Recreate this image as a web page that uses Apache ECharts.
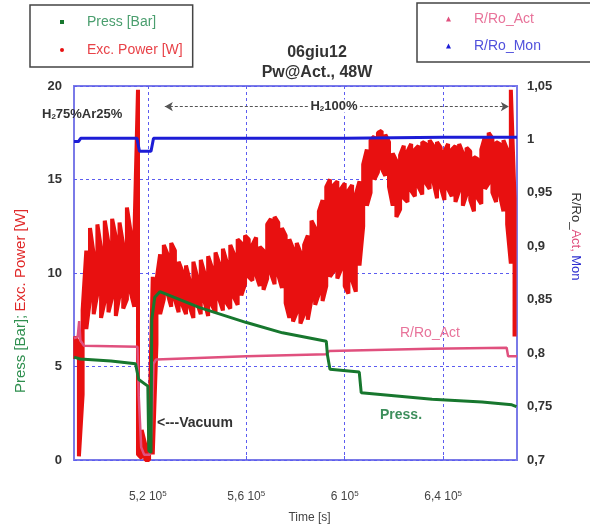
<!DOCTYPE html>
<html>
<head>
<meta charset="utf-8">
<script src="https://cdn.jsdelivr.net/npm/echarts@6/dist/echarts.min.js"></script>
<style>
html,body{margin:0;padding:0;background:#fff;}
#chart{width:590px;height:529px;}
</style>
</head>
<body>
<div id="chart"></div>
<script>
// tempi in secondi
var pressTime = [490000, 492500, 505000, 515000, 516300, 520000, 520400, 521300, 521600, 522800, 524900, 541100,
    560100, 574700, 592500, 593000, 594000, 605900, 606700, 607500, 635500, 655800, 667900, 669800];
var pressVal = [5.5, 5.4, 5.3, 5.15, 4.3, 3.95, 0.5, 0.4, 7.5, 8.7, 9.0, 8.15,
    7.35, 6.8, 6.35, 5.6, 4.85, 4.7, 3.6, 3.5, 3.25, 3.1, 2.95, 2.85];

var actTime = [490000, 491500, 492100, 492600, 494000, 515800, 516300, 517300, 518500, 520800, 521600, 522300,
    523300, 560000, 592500, 593700, 635000, 665800, 666400, 670000];
var actVal = [0.814, 0.815, 0.83, 0.812, 0.807, 0.806, 0.76, 0.712, 0.705, 0.705, 0.73, 0.79,
    0.794, 0.797, 0.799, 0.802, 0.804, 0.805, 0.797, 0.797];

var monTime = [490000, 491800, 492700, 515600, 516600, 521300, 522300, 600000, 640000, 670000];
var monVal = [0.998, 0.998, 1.001, 1.001, 0.989, 0.989, 1.001, 1.001, 1.002, 1.002];

var powerTime = [490500, 492000, 493500, 495000, 496500, 498000, 499500, 501000, 502500, 504000,
    505500, 507000, 508500, 510000, 511500, 513000, 514500, 516000, 517500, 519000,
    520500, 522000, 523500, 525000, 526500, 528000, 529500, 531000, 532500, 534000,
    535500, 537000, 538500, 540000, 541500, 543000, 544500, 546000, 547500, 549000,
    550500, 552000, 553500, 555000, 556500, 558000, 559500, 561000, 562500, 564000,
    565500, 567000, 568500, 570000, 571500, 573000, 574500, 576000, 577500, 579000,
    580500, 582000, 583500, 585000, 586500, 588000, 589500, 591000, 592500, 594000,
    595500, 597000, 598500, 600000, 601500, 603000, 604500, 606000, 607500, 609000,
    610500, 612000, 613500, 615000, 616500, 618000, 619500, 621000, 622500, 624000,
    625500, 627000, 628500, 630000, 631500, 633000, 634500, 636000, 637500, 639000,
    640500, 642000, 643500, 645000, 646500, 648000, 649500, 651000, 652500, 654000,
    655500, 657000, 658500, 660000, 661500, 663000, 664500, 666000, 667500, 669000];
var powerLow = [5.4, 0.2, 3.5, 7.0, 8.6, 7.8, 8.9, 7.6, 8.5, 7.9,
    8.7, 7.7, 8.8, 8.1, 8.6, 9.0, 8.2, 0.3, 0.1, 0.0,
    0.0, 0.3, 6.2, 7.8, 8.6, 8.9, 8.2, 8.6, 7.9, 8.3,
    7.8, 8.2, 7.6, 8.4, 7.8, 8.5, 7.7, 8.3, 7.9, 8.6,
    8.0, 8.4, 8.1, 8.7, 8.3, 8.8, 9.4, 9.8, 9.6, 9.9,
    9.3, 9.1, 9.7, 10.0, 9.4, 9.9, 9.2, 8.4, 7.6, 7.4,
    7.9, 7.3, 7.8, 7.5, 8.6, 8.3, 8.9, 8.5, 9.3, 9.8,
    10.1, 9.7, 10.2, 9.3, 8.9, 9.6, 9.0, 10.4, 12.5, 13.6,
    14.3, 15.0, 15.4, 15.6, 15.2, 14.6, 13.6, 13.0, 13.4, 14.0,
    13.8, 14.4, 14.1, 14.6, 14.2, 14.8, 14.5, 14.9, 14.0, 14.6,
    13.9, 14.5, 14.1, 13.8, 14.4, 13.6, 14.2, 13.9, 13.3, 14.0,
    13.7, 14.5, 14.8, 14.3, 13.8, 14.2, 13.3, 12.6, 10.5, 6.6];
var powerHigh = [6.6, 6.2, 8.0, 11.2, 12.4, 11.0, 12.6, 11.3, 12.8, 11.6,
    12.9, 11.9, 12.7, 11.5, 13.5, 12.2, 11.8, 19.8, 1.6, 0.8,
    1.0, 9.8, 9.6, 11.0, 11.5, 11.0, 11.6, 11.2, 10.6, 10.1,
    10.4, 9.6, 10.6, 9.8, 10.7, 10.0, 10.9, 10.3, 11.1, 10.5,
    11.3, 10.6, 11.5, 11.0, 11.8, 11.6, 12.0, 11.8, 11.5, 11.9,
    11.4, 11.2, 12.6, 12.9, 13.0, 12.7, 12.4, 12.0, 11.8, 11.3,
    11.6, 11.1, 11.5, 12.0, 12.8, 12.4, 13.3, 13.9, 14.6, 15.0,
    14.7, 14.9, 14.5, 14.8, 14.4, 14.7, 14.2, 14.9, 15.8, 16.6,
    17.1, 17.3, 17.5, 17.6, 17.4, 17.0, 16.4, 16.0, 16.3, 16.8,
    16.5, 16.9, 16.6, 16.8, 17.0, 16.9, 17.1, 16.8, 17.0, 16.7,
    16.5, 16.9, 16.6, 16.8, 16.9, 16.4, 16.7, 16.5, 16.2, 16.1,
    16.6, 17.3, 17.5, 17.2, 17.0, 16.9, 17.1, 16.6, 19.8, 14.0];

var timeTicks = [520000, 560000, 600000, 640000];
// fase H2 100% (freccia in alto)
var h2Span = [526900, 666700];
var h2Level = 18.9;

var FONT = '"Liberation Sans", Arial, sans-serif';

function zip(xs, ys) {
    return xs.map(function (x, i) { return [x, ys[i]]; });
}
// la nuvola rossa come tratti verticali min-max
var powerData = [];
powerTime.forEach(function (t, i) {
    if (i % 2 === 0) {
        powerData.push([t, powerLow[i]], [t, powerHigh[i]]);
    } else {
        powerData.push([t, powerHigh[i]], [t, powerLow[i]]);
    }
});

function timeLabel(v) {
    return String(+(v / 1e5).toFixed(1)).replace('.', ',') + ' 10{sup|5}';
}
function ratioLabel(v) {
    return String(+v.toFixed(2)).replace('.', ',');
}

var gridLine = {show: true, lineStyle: {color: '#5c5cf0', width: 1, type: [3, 3]}};

var chart = echarts.init(document.getElementById('chart'));
chart.setOption({
    animation: false,
    textStyle: {fontFamily: FONT},
    title: {
        text: '06giu12\nPw@Act., 48W',
        left: 312, top: 38, textAlign: 'center',
        textStyle: {fontSize: 16, fontWeight: 'bold', color: '#333', lineHeight: 20, fontFamily: FONT}
    },
    legend: [{
        data: [
            {name: 'Press [Bar]', icon: 'rect', textStyle: {color: '#4a9e6e'}},
            {name: 'Exc. Power [W]', icon: 'circle', textStyle: {color: '#e84248'}}
        ],
        orient: 'vertical', left: 30, top: 5,
        padding: [10, 10, 10, 30], itemGap: 14, itemWidth: 4, itemHeight: 4,
        borderColor: '#444', borderWidth: 1.5,
        formatter: function (n) { return '{p| }' + n; },
        textStyle: {fontSize: 14, fontFamily: FONT, rich: {p: {width: 18}}}
    }, {
        data: [
            {name: 'R/Ro_Act', icon: 'triangle', textStyle: {color: '#e8739a'}},
            {name: 'R/Ro_Mon', icon: 'triangle', textStyle: {color: '#5050dc'}}
        ],
        orient: 'vertical', left: 417, top: 3,
        padding: [9, 50, 9, 29], itemGap: 13, itemWidth: 5, itemHeight: 5,
        borderColor: '#444', borderWidth: 1.5,
        formatter: function (n) { return '{p| }' + n; },
        textStyle: {fontSize: 14, fontFamily: FONT, rich: {p: {width: 18}}}
    }],
    grid: {left: 74, right: 72, top: 86, bottom: 68, show: true, borderColor: '#7a7ae8', borderWidth: 2},
    xAxis: {
        type: 'value', min: 490000, max: 670000,
        axisLine: {show: false},
        axisTick: {show: true, inside: true, length: 4, customValues: timeTicks, lineStyle: {color: '#5c5cf0'}},
        axisLabel: {
            customValues: timeTicks, formatter: timeLabel, margin: 30,
            fontSize: 12, color: '#444', lineHeight: 14,
            rich: {sup: {fontSize: 8, verticalAlign: 'top', lineHeight: 14, color: '#444'}}
        },
        splitLine: gridLine,
        name: 'Time [s]', nameLocation: 'middle', nameGap: 52,
        nameTextStyle: {fontSize: 12, color: '#444', padding: [0, 0, 0, 28]}
    },
    yAxis: [{
        type: 'value', min: 0, max: 20, interval: 5, position: 'left',
        axisLine: {show: false}, axisTick: {show: false},
        axisLabel: {margin: 12, fontSize: 13, fontWeight: 'bold', color: '#333'},
        splitLine: gridLine,
        name: '{g|Press [Bar];} {r|Exc. Power [W]}', nameLocation: 'middle', nameGap: 46,
        nameTextStyle: {
            padding: [0, 56, 0, 0],
            rich: {g: {color: '#2f8f4f', fontSize: 15}, r: {color: '#e02828', fontSize: 15}}
        }
    }, {
        type: 'value', min: 0.7, max: 1.05, interval: 0.05, position: 'right',
        axisLine: {show: false}, axisTick: {show: false},
        axisLabel: {margin: 10, fontSize: 13, fontWeight: 'bold', color: '#333', formatter: ratioLabel},
        splitLine: {show: false},
        name: '{k|R/Ro_}{p|Act,} {b|Mon}', nameLocation: 'middle', nameGap: 52, nameRotate: -90,
        nameTextStyle: {
            padding: [0, 73, 0, 0],
            rich: {k: {color: '#333', fontSize: 13}, p: {color: '#e0507e', fontSize: 13}, b: {color: '#3030d0', fontSize: 13}}
        }
    }],
    graphic: [
        {type: 'text', x: 42, y: 114, z: 100, style: {
            text: 'H{sub|2}75%Ar25%', fill: '#333', fontSize: 13, fontWeight: 'bold', fontFamily: FONT,
            verticalAlign: 'middle', rich: {sub: {fontSize: 8, verticalAlign: 'bottom', fill: '#333', fontWeight: 'bold'}}
        }},
        {type: 'text', x: 334, y: 106, z: 100, style: {
            text: 'H{sub|2}100%', fill: '#333', fontSize: 13, fontWeight: 'bold', fontFamily: FONT,
            align: 'center', verticalAlign: 'middle', backgroundColor: '#fff', padding: [0, 2],
            rich: {sub: {fontSize: 8, verticalAlign: 'bottom', fill: '#333', fontWeight: 'bold'}}
        }},
        {type: 'text', x: 400, y: 333, z: 100, style: {
            text: 'R/Ro_Act', fill: '#e8739a', fontSize: 14, fontFamily: FONT, verticalAlign: 'middle'
        }},
        {type: 'text', x: 380, y: 415, z: 100, style: {
            text: 'Press.', fill: '#3d8f5c', fontSize: 14, fontWeight: 'bold', fontFamily: FONT, verticalAlign: 'middle'
        }},
        {type: 'text', x: 157, y: 423, z: 100, style: {
            text: '<---Vacuum', fill: '#333', fontSize: 14, fontWeight: 'bold', fontFamily: FONT, verticalAlign: 'middle'
        }}
    ],
    series: [{
        name: 'Exc. Power [W]', type: 'line', yAxisIndex: 0, data: powerData,
        showSymbol: false, symbol: 'circle', silent: true, z: 2,
        lineStyle: {color: '#e81010', width: 4}, itemStyle: {color: '#e81010'}
    }, {
        name: 'Press [Bar]', type: 'line', yAxisIndex: 0, data: zip(pressTime, pressVal),
        showSymbol: false, symbol: 'rect', z: 4,
        lineStyle: {color: '#17772e', width: 3}, itemStyle: {color: '#17772e'},
        markLine: {
            silent: true, symbol: ['arrow', 'arrow'], symbolSize: [7, 8],
            lineStyle: {color: '#555', type: [3, 2], width: 1},
            label: {show: false},
            data: [[{coord: [h2Span[0], h2Level]}, {coord: [h2Span[1], h2Level]}]]
        }
    }, {
        name: 'R/Ro_Act', type: 'line', yAxisIndex: 1, data: zip(actTime, actVal),
        showSymbol: false, symbol: 'triangle', z: 3,
        lineStyle: {color: '#e0507e', width: 2.5}, itemStyle: {color: '#e0507e'}
    }, {
        name: 'R/Ro_Mon', type: 'line', yAxisIndex: 1, data: zip(monTime, monVal),
        showSymbol: false, symbol: 'triangle', z: 5,
        lineStyle: {color: '#1c1cd6', width: 3}, itemStyle: {color: '#1c1cd6'}
    }]
});
</script>
</body>
</html>
